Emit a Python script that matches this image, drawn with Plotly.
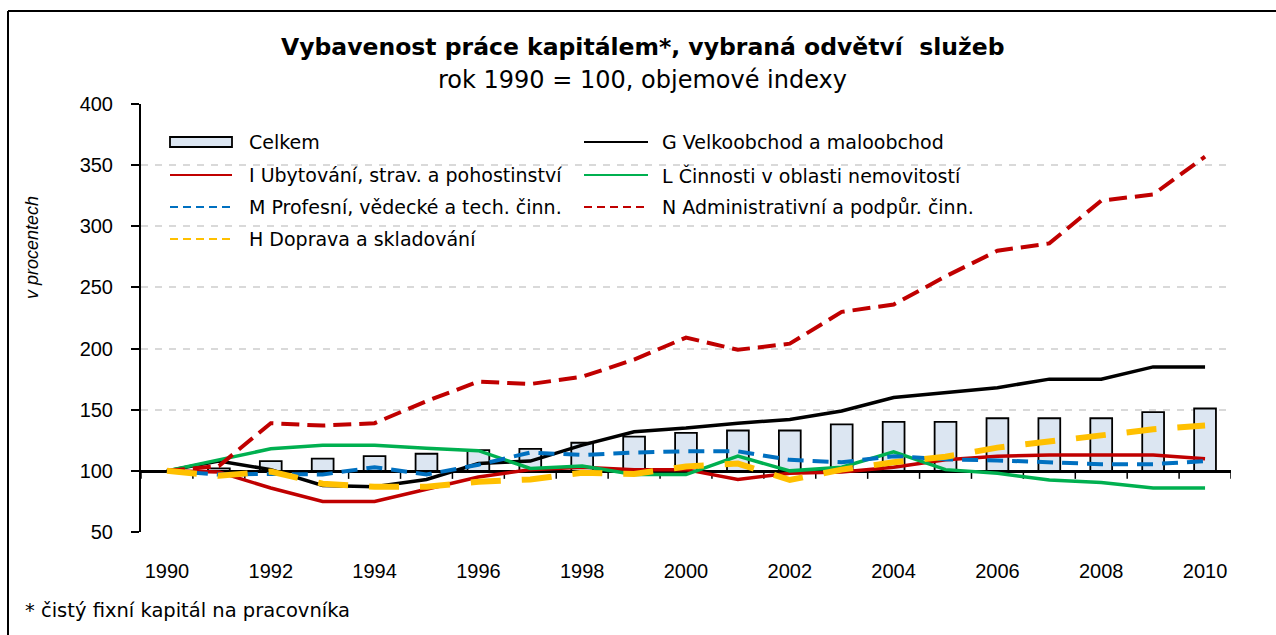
import plotly.graph_objects as go

# --- data -------------------------------------------------------------
years = list(range(1990, 2011))
tick_years = list(range(1990, 2011, 2))

celkem = [100, 102, 108, 110, 112, 114, 117, 118, 123, 128, 131,
          133, 133, 138, 140, 140, 143, 143, 143, 148, 151]
g_obchod = [100, 108, 101, 88, 87, 93, 106, 108, 121, 132, 135,
            139, 142, 149, 160, 164, 168, 175, 175, 185, 185]
i_ubytovani = [100, 99, 86, 75, 75, 85, 95, 101, 103, 101, 101,
               93, 98, 99, 103, 109, 112, 113, 113, 113, 110]
l_nemovitosti = [100, 109, 118, 121, 121, 118.5, 116.5, 102, 104, 97, 97,
                 112, 100, 103, 115.5, 101, 98, 92.5, 90.5, 86, 86]
m_profesni = [100, 97, 97.5, 97, 103, 97, 105, 115, 113, 115, 116,
              116, 109, 107, 112, 109.5, 108.5, 107, 105.5, 105.5, 108]
n_administrativni = [100, 104, 139, 137, 139, 157, 173, 171, 177, 191, 209,
                     199, 204, 230, 236, 259, 280, 286, 321, 326, 357]
h_doprava = [100, 96, 99.5, 89.5, 87, 87, 91, 93, 98.5, 97.5, 103.5,
             106, 92.5, 101, 107, 111.5, 119, 123.5, 129, 134, 137]

# --- page geometry (pixels) --------------------------------------------
W, H = 1276, 635
ML, MR, MT, MB = 141, 45, 104, 103
PW = W - ML - MR
PH = H - MT - MB
FONT = "Liberation Sans, Arial, sans-serif"
WIDE = "DejaVu Sans, Liberation Sans, sans-serif"
BASE = 100  # level where the category axis crosses
Y_MIN, Y_MAX = 50, 400


def px(x):
    return (x - ML) / PW


def py(y):
    return (H - MB - y) / PH


fig = go.Figure()

# Celkem as bars rising from the 100 baseline
fig.add_trace(go.Bar(
    x=years, y=[v - BASE for v in celkem], base=BASE, width=0.42,
    marker=dict(color="#DCE6F2", line=dict(color="black", width=1.8)),
    name="Celkem", showlegend=False, hoverinfo="skip",
))

line_series = [
    ("G Velkoobchod a maloobchod", g_obchod, "#000000", "solid", 3.5),
    ("I Ubytování, strav. a pohostinství", i_ubytovani, "#C00000", "solid", 3.5),
    ("L Činnosti v oblasti nemovitostí", l_nemovitosti, "#00B050", "solid", 3.5),
    ("M Profesní, vědecké a tech. činn.", m_profesni, "#0070C0", "16px,9px", 4),
    ("N Administrativní a podpůr. činn.", n_administrativni, "#C00000", "18px,8px", 4),
    ("H Doprava a skladování", h_doprava, "#FFC000", "30px,21px", 6),
]
for name, vals, color, dash, width in line_series:
    fig.add_trace(go.Scatter(
        x=years, y=vals, mode="lines", name=name, showlegend=False,
        line=dict(color=color, width=width, dash=dash),
    ))

# empty trace so the secondary x axis (line at the 100 level) gets drawn
fig.add_trace(go.Scatter(x=[], y=[], xaxis="x2", yaxis="y",
                         showlegend=False, hoverinfo="skip"))

shapes = []
annotations = []

# tick marks between the years, hanging below the 100-level axis line
axis_px = H - MB - (BASE - Y_MIN) / (Y_MAX - Y_MIN) * PH
for k in range(len(years) + 1):
    xb = years[0] - 0.5 + k
    shapes.append(dict(type="line", xref="x", yref="paper", x0=xb, x1=xb,
                       y0=py(axis_px), y1=py(axis_px + 8), layer="below",
                       line=dict(color="black", width=1.5)))

# --- legend drawn as shapes + text ---------------------------------------
col1_x0, col1_x1, col1_tx = 170, 232, 247
col2_x0, col2_x1, col2_tx = 584, 648, 660
rows = [142, 175, 207, 239]

legend_items = [
    ("Celkem", "bar", None, None, col1_x0, col1_x1, col1_tx, rows[0]),
    (line_series[0][0], "line", "#000000", "solid", col2_x0, col2_x1, col2_tx, rows[0]),
    (line_series[1][0], "line", "#C00000", "solid", col1_x0, col1_x1, col1_tx, rows[1]),
    (line_series[2][0], "line", "#00B050", "solid", col2_x0, col2_x1, col2_tx, rows[1]),
    (line_series[3][0], "line", "#0070C0", "8px,5px", col1_x0, col1_x1, col1_tx, rows[2]),
    (line_series[4][0], "line", "#C00000", "8px,5px", col2_x0, col2_x1, col2_tx, rows[2]),
    (line_series[5][0], "line", "#FFC000", "8px,5px", col1_x0, col1_x1, col1_tx, rows[3]),
]
for text, kind, color, dash, x0, x1, tx, ry in legend_items:
    if kind == "bar":
        shapes.append(dict(type="rect", xref="paper", yref="paper",
                           x0=px(x0), x1=px(x1), y0=py(ry - 5), y1=py(ry + 5),
                           fillcolor="#DCE6F2", line=dict(color="black", width=1.8)))
    else:
        shapes.append(dict(type="line", xref="paper", yref="paper",
                           x0=px(x0), x1=px(x1), y0=py(ry), y1=py(ry),
                           line=dict(color=color, width=2, dash=dash)))
    annotations.append(dict(text=text, xref="paper", yref="paper",
                            x=px(tx), y=py(ry), xanchor="left", yanchor="middle",
                            showarrow=False, font=dict(size=19, color="black", family=WIDE)))

# outer frame (left and top edges)
shapes.append(dict(type="line", xref="paper", yref="paper",
                   x0=px(8), x1=px(8), y0=py(11), y1=py(H + 20),
                   line=dict(color="black", width=2)))
shapes.append(dict(type="line", xref="paper", yref="paper",
                   x0=px(8), x1=px(W + 20), y0=py(11), y1=py(11),
                   line=dict(color="black", width=2)))

# titles, axis caption and footnote
annotations += [
    dict(text="<b>Vybavenost práce kapitálem*, vybraná odvětví  služeb</b>",
         xref="paper", yref="paper", x=px(642), y=py(47), xanchor="center", yanchor="middle",
         showarrow=False, font=dict(size=23.5, color="black", family=WIDE)),
    dict(text="rok 1990 = 100, objemové indexy",
         xref="paper", yref="paper", x=px(642), y=py(80), xanchor="center", yanchor="middle",
         showarrow=False, font=dict(size=24, color="black", family=WIDE)),
    dict(text="<i>v procentech</i>", textangle=-90,
         xref="paper", yref="paper", x=px(32), y=py(248), xanchor="center", yanchor="middle",
         showarrow=False, font=dict(size=18, color="black", family=FONT)),
    dict(text="* čistý fixní kapitál na pracovníka",
         xref="paper", yref="paper", x=px(23), y=py(610), xanchor="left", yanchor="middle",
         showarrow=False, font=dict(size=19.5, color="black", family=WIDE)),
]

fig.update_layout(
    width=W, height=H,
    margin=dict(l=ML, r=MR, t=MT, b=MB, pad=0),
    paper_bgcolor="white", plot_bgcolor="white",
    font=dict(family=FONT, color="black", size=20),
    barmode="overlay",
    showlegend=False,
    shapes=shapes,
    annotations=annotations,
    xaxis=dict(
        range=[1989.5, 2010.5], tickmode="array", tickvals=tick_years,
        ticktext=[str(y) for y in tick_years],
        showline=False, showgrid=False, zeroline=False, ticks="",
        tickfont=dict(size=20, color="black"), ticklabelstandoff=25,
    ),
    # axis line crossing the value axis at 100
    xaxis2=dict(
        overlaying="x", anchor="free",
        position=(BASE - Y_MIN) / (Y_MAX - Y_MIN),
        range=[1989.5, 2010.5], layer="below traces",
        showline=True, linecolor="black", linewidth=2.7, ticks="",
        showticklabels=False, showgrid=False, zeroline=False,
    ),
    yaxis=dict(
        range=[Y_MIN, Y_MAX], tickmode="linear", tick0=50, dtick=50,
        showline=True, linecolor="black", linewidth=2,
        ticks="outside", ticklen=8, tickwidth=1.5, tickcolor="black",
        showgrid=True, gridcolor="#D9D9D9", gridwidth=1.5, griddash="7px,7px",
        zeroline=False, tickfont=dict(size=20, color="black"), ticklabelstandoff=14,
    ),
)

fig.write_html("out.html")
